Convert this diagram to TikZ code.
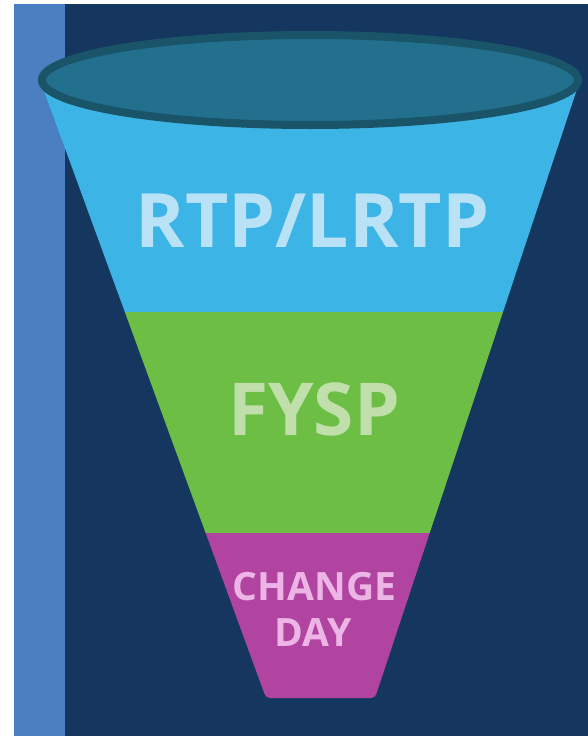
\documentclass[tikz,border=0pt]{standalone}
\usepackage{fontspec}
\setmainfont{Open Sans}
\definecolor{navy}{HTML}{14365F}
\definecolor{strip}{HTML}{4A80C2}
\definecolor{rimfill}{HTML}{22708E}
\definecolor{rimline}{HTML}{1A5468}
\definecolor{lblue}{HTML}{3DB4E6}
\definecolor{lgreen}{HTML}{6DBE45}
\definecolor{lmag}{HTML}{B044A0}
\definecolor{tblue}{HTML}{B9E2F6}
\definecolor{tgreen}{HTML}{C0DFAA}
\definecolor{tmag}{HTML}{EDB4E6}
\tikzset{
  lbl/.style={anchor=base, inner sep=0pt, font=\bfseries},
}
\begin{document}
\begin{tikzpicture}[x=1pt,y=-1pt]
\useasboundingbox (0,0) rectangle (588,736);
\fill[white] (0,0) rectangle (588,736);
\fill[strip] (14,4) rectangle (65,736);
\fill[navy] (65,4) rectangle (588,736);
% funnel body
\begin{scope}
  \clip[rounded corners=4pt] (40,80) -- (580,80) -- (375,698) -- (266,698) -- cycle;
  \fill[lblue] (0,0) rectangle (588,312);
  \fill[lgreen] (0,312) rectangle (588,533);
  \fill[lmag] (0,533) rectangle (588,736);
\end{scope}
% rim
\draw[rimline, fill=rimfill, line width=8pt] (310,80) ellipse [x radius=268pt, y radius=45pt];
% labels
\node[lbl, text=tblue, font=\bfseries\fontsize{75}{80}\selectfont] (rtp) at (312.5,247) {RTP/LRTP};
\node[lbl, text=tgreen, font=\bfseries\fontsize{73}{78}\selectfont] (fysp) at (314,435) {FYSP};
\node[lbl, text=tmag, font=\bfseries\fontsize{39}{44}\selectfont] (change) at (314.5,600) {CHANGE};
\node[lbl, text=tmag, font=\bfseries\fontsize{39}{44}\selectfont] (day) at (313,646) {DAY};
\end{tikzpicture}
\end{document}
